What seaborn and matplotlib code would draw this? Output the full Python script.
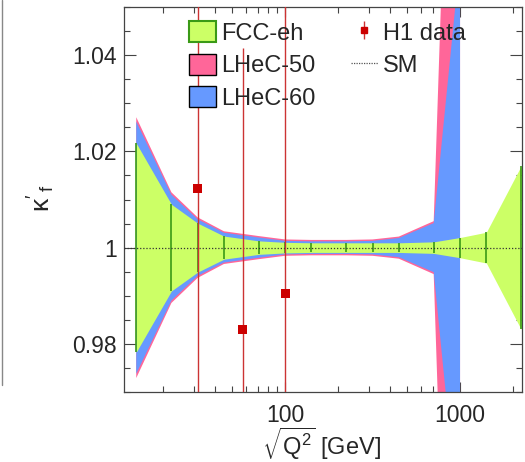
import numpy as np
import pandas as pd
import matplotlib
matplotlib.use("Agg")
import matplotlib.pyplot as plt
import seaborn as sns
from matplotlib.patches import Patch
from matplotlib.lines import Line2D
from matplotlib.ticker import FixedLocator, LogLocator, NullFormatter, FixedFormatter, MultipleLocator

# ---------------- data ----------------
q_fcc = [14.1, 22.4, 31.6, 44.7, 70.7, 100, 141, 224, 316, 447, 707, 1000, 1414, 2236]
fcc_half = [0.0217, 0.0090, 0.0051, 0.0024, 0.0014, 0.0011, 0.0010, 0.0010, 0.0010,
            0.0010, 0.0012, 0.0021, 0.0032, 0.0170]
q_lhec = [14.1, 22.4, 31.6, 44.7, 70.7, 100, 141, 224, 316, 447, 707, 1000]
lhec60_half = [0.0262, 0.0110, 0.0059, 0.0031, 0.0021, 0.0014, 0.0013, 0.0013, 0.0014,
               0.0020, 0.0051, 0.060]
lhec50_half = [0.0271, 0.0115, 0.0063, 0.0034, 0.0024, 0.0017, 0.0016, 0.0016, 0.0017,
               0.0023, 0.0055, 0.170]
sm_value = 1.0
h1_q = [31.6, 57.3, 100.0]
h1_kappa = [1.0122, 0.9829, 0.9904]
h1_err = [0.050, 0.0585, 0.070]

y_ticks = [0.98, 1.00, 1.02, 1.04]
y_ticklabels = ["0.98", "1", "1.02", "1.04"]
x_ticks = [100, 1000]
x_ticklabels = ["100", "1000"]
legend_labels = ["FCC-eh", "LHeC-50", "LHeC-60", "H1 data", "SM"]

# ---------------- style ----------------
sns.set_style("ticks")
plt.rcParams["font.family"] = ["Liberation Sans", "DejaVu Sans"]
plt.rcParams["mathtext.fontset"] = "custom"
plt.rcParams["mathtext.rm"] = "Liberation Sans"
plt.rcParams["mathtext.it"] = "Liberation Sans"
plt.rcParams["mathtext.default"] = "regular"

green_fill = "#ccff66"
green_line = "#3a9a16"
blue_fill = "#6699ff"
pink_fill = "#ff6699"
red_marker = "#cc0000"
red_line = "#cc3333"

fig = plt.figure(figsize=(5.25, 4.62), dpi=100)
ax = fig.add_axes([124 / 525, 1 - 392 / 462, (522 - 124) / 525, (392 - 7) / 462])

fcc = pd.DataFrame({"q": q_fcc, "half": fcc_half})
fcc["lo"] = sm_value - fcc["half"]
fcc["hi"] = sm_value + fcc["half"]
lhec = pd.DataFrame({"q": q_lhec, "h60": lhec60_half, "h50": lhec50_half})

ax.fill_between(lhec["q"], sm_value - lhec["h50"], sm_value + lhec["h50"],
                color=pink_fill, lw=0, zorder=1)
ax.fill_between(lhec["q"], sm_value - lhec["h60"], sm_value + lhec["h60"],
                color=blue_fill, lw=0, zorder=2)
ax.fill_between(fcc["q"], fcc["lo"], fcc["hi"], color=green_fill, lw=0, zorder=3)
ax.vlines(fcc["q"], fcc["lo"], fcc["hi"], color=green_line, lw=1.2, zorder=4)

ax.axhline(sm_value, color="#333333", ls=(0, (1, 1.5)), lw=0.9, zorder=5)

ax.errorbar(h1_q, h1_kappa, yerr=h1_err, fmt="none", ecolor=red_line, elinewidth=1.0,
            zorder=6)
h1 = pd.DataFrame({"q": h1_q, "kappa": h1_kappa})
sns.scatterplot(data=h1, x="q", y="kappa", marker="s", s=42, color=red_marker,
                edgecolor="none", ax=ax, zorder=7, legend=False)

ax.set_xscale("log")
ax.set_xlim(12, 2260)
ax.set_ylim(0.97, 1.05)
ax.set_xlabel("")
ax.set_ylabel("")

ax.xaxis.set_major_locator(FixedLocator(x_ticks))
ax.xaxis.set_major_formatter(FixedFormatter(x_ticklabels))
ax.xaxis.set_minor_locator(LogLocator(base=10, subs=np.arange(2, 10)))
ax.xaxis.set_minor_formatter(NullFormatter())
ax.yaxis.set_major_locator(FixedLocator(y_ticks))
ax.yaxis.set_major_formatter(FixedFormatter(y_ticklabels))
ax.yaxis.set_minor_locator(MultipleLocator(0.005))

ax.tick_params(which="both", direction="in", top=True, right=True, color="#444444",
               width=0.8, labelsize=16.5)
ax.tick_params(axis="y", which="major", length=8.5, pad=5)
ax.tick_params(axis="y", which="minor", length=4)
ax.tick_params(axis="x", which="major", length=7, pad=9)
ax.tick_params(axis="x", which="minor", length=4)
for sp in ax.spines.values():
    sp.set_color("#444444")
    sp.set_linewidth(0.9)

# axis titles
fig.text(41 / 525, 1 - 198 / 462, r"$\kappa'_{\,f}$", rotation=90, fontsize=19,
         ha="center", va="center")
fig.text(322 / 525, 1 - 444 / 462, r"$\sqrt{Q^2}$ [GeV]", fontsize=17,
         ha="center", va="center")

# legend
handles = [
    Patch(facecolor=green_fill, edgecolor=green_line, lw=1.5),
    Patch(facecolor=pink_fill, edgecolor="black", lw=1.0),
    Patch(facecolor=blue_fill, edgecolor="black", lw=1.0),
    (Line2D([], [], marker="|", ms=13, mew=1.0, color=red_line, ls="none"),
     Line2D([], [], marker="s", ms=5, color=red_marker, ls="none")),
    Line2D([], [], color="#555555", ls=(0, (1, 1)), lw=0.9),
]
fig.legend(handles, legend_labels, ncol=2, loc="upper left",
           bbox_to_anchor=(189 / 525, 1 - 21 / 462), frameon=False, fontsize=17,
           borderpad=0, borderaxespad=0, handlelength=1.15, handleheight=1.0,
           handletextpad=0.2, labelspacing=0.38, columnspacing=1.5)

# edge of neighbouring panel (cropped in the reference)
fig.add_artist(Line2D([1.5 / 525, 1.5 / 525], [1 - 385 / 462, 1.0], color="#888888",
                      lw=1.0, transform=fig.transFigure))

fig.savefig("out.png", dpi=100)
